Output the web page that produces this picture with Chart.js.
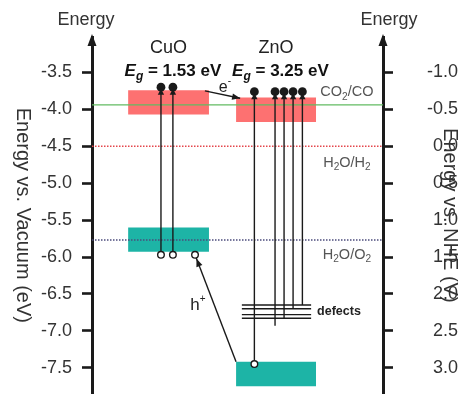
<!DOCTYPE html>
<html>
<head>
<meta charset="utf-8">
<script src="https://cdn.jsdelivr.net/npm/chart.js@4.4.0/dist/chart.umd.min.js"></script>
<style>
  html, body { margin: 0; padding: 0; background: #fff; }
  #wrap { width: 458px; height: 399px; position: relative; }
</style>
</head>
<body>
<div id="wrap"><canvas id="c"></canvas></div>
<script>
// Energy axes: eV vs. vacuum (left) and V vs. NHE (right)
const vacuumTicks = [-3.5, -4.0, -4.5, -5.0, -5.5, -6.0, -6.5, -7.0, -7.5];
const nheTicks = [-1.0, -0.5, 0.0, 0.5, 1.0, 1.5, 2.0, 2.5, 3.0];

// Semiconductors and their bands (eV vs. vacuum)
const materials = ['CuO', 'ZnO'];
const bandGaps = [1.53, 3.25];
const cbMinimum = [-4.07, -4.17];
const bandThickness = [0.33, 0.33];
const bandLeft = [12.4, 49.5];
const bandRight = [40.2, 77.0];

// Redox couples (eV vs. vacuum)
const redoxNames = ['CO2/CO', 'H2O/H2', 'H2O/O2'];
const redoxLevels = [-3.94, -4.5, -5.77];

// CuO excitations
const cuoExcX = [23.7, 27.8];
const cuoHole = -5.97;
const cuoElectron = -3.70;
const cuoTransferredHoleX = 35.4;

// ZnO band-to-band excitation and excitations out of defect states
const znoExcX = 55.8;
const znoHole = -7.45;
const znoElectron = -3.76;
const defectLevels = [-6.65, -6.70, -6.78, -6.83];
const defectSpan = [51.5, 75.3];
const defectExcX = [62.9, 66.0, 69.1, 72.3];
const defectExcStart = [-6.93, -6.83, -6.70, -6.65];

// Interfacial charge transfer (x, energy)
const electronTransfer = [[38.8, -3.75], [50.9, -3.85]];

const VAC_MIN = -7.85, VAC_MAX = -3.02;
const toNHE = e => -e - 4.5;

const FAMILY = '"Liberation Sans", Arial, Helvetica, sans-serif';
const font = (size, weight = 'normal', style = 'normal') => `${style} ${weight} ${size}px ${FAMILY}`;
const INK = '#1a1a1a';
const CB_COLOR = '#fd7171';
const VB_COLOR = '#1db4a6';
const REDOX_STYLE = [
  { color: '#62bb62', width: 1.2, dash: [] },
  { color: '#e4474c', width: 1.5, dash: [1.5, 1.5] },
  { color: '#4b4b7c', width: 1.5, dash: [1.5, 1.5] }
];

const datasets = [];

function block(x0, x1, yLow, yHigh, color) {
  return {
    data: [{ x: x0, y: yLow }, { x: x1, y: yLow }],
    fill: { value: yHigh },
    backgroundColor: color,
    borderColor: 'transparent',
    borderWidth: 0,
    pointRadius: 0,
    order: 6
  };
}

const cbTop = [], vbTop = [];
materials.forEach((m, i) => {
  const cbLow = cbMinimum[i];
  const cbHigh = cbLow + bandThickness[i];
  const vbHigh = cbLow - bandGaps[i];
  const vbLow = vbHigh - bandThickness[i];
  cbTop.push(cbHigh);
  vbTop.push(vbHigh);
  datasets.push(block(bandLeft[i], bandRight[i], cbLow, cbHigh, CB_COLOR));
  datasets.push(block(bandLeft[i], bandRight[i], vbLow, vbHigh, VB_COLOR));
});

redoxLevels.forEach((v, i) => {
  const s = REDOX_STYLE[i];
  datasets.push({
    data: [{ x: 0, y: v }, { x: 100, y: v }],
    borderColor: s.color,
    borderWidth: s.width,
    borderDash: s.dash,
    pointRadius: 0,
    fill: false,
    order: 5
  });
});

defectLevels.forEach(v => {
  datasets.push({
    data: [{ x: defectSpan[0], y: v }, { x: defectSpan[1], y: v }],
    borderColor: INK,
    borderWidth: 1.4,
    pointRadius: 0,
    fill: false,
    order: 4
  });
});

// vertical excitation: hole (open) at the start, electron (filled) at the end
function excitation(x, from, to, withHole) {
  return {
    data: [{ x, y: from }, { x, y: to }],
    borderColor: INK,
    borderWidth: 1.4,
    pointRadius: [withHole ? 3.3 : 0, 4.4],
    pointBackgroundColor: ['#ffffff', INK],
    pointBorderColor: INK,
    pointBorderWidth: [1.4, 0],
    fill: false,
    order: 2,
    arrowGap: 1.5, arrowLength: 6, arrowWidth: 3.2
  };
}

cuoExcX.forEach(x => datasets.push(excitation(x, cuoHole, cuoElectron, true)));
datasets.push(excitation(znoExcX, znoHole, znoElectron, true));
defectExcX.forEach((x, i) => datasets.push(excitation(x, defectExcStart[i], znoElectron, false)));

// hole transferred from the ZnO valence band to CuO
datasets.push({
  data: [{ x: cuoTransferredHoleX, y: cuoHole }],
  showLine: false,
  pointRadius: 3.3,
  pointBackgroundColor: '#ffffff',
  pointBorderColor: INK,
  pointBorderWidth: 1.4,
  order: 1
});
datasets.push({
  data: [{ x: bandLeft[1], y: vbTop[1] }, { x: cuoTransferredHoleX, y: cuoHole }],
  borderColor: INK,
  borderWidth: 1.4,
  pointRadius: 0,
  fill: false,
  order: 3,
  arrowGap: 4.2, arrowLength: 8, arrowWidth: 3.2
});
// electron transferred from CuO to ZnO
datasets.push({
  data: electronTransfer.map(([x, y]) => ({ x, y })),
  borderColor: INK,
  borderWidth: 1.4,
  pointRadius: 0,
  fill: false,
  order: 3,
  arrowGap: 0, arrowLength: 8, arrowWidth: 3.2
});

const arrowHeads = {
  id: 'arrowHeads',
  afterDatasetsDraw(chart) {
    const ctx = chart.ctx;
    chart.data.datasets.forEach((ds, i) => {
      if (ds.arrowGap === undefined) return;
      const pts = chart.getDatasetMeta(i).data;
      const a = pts[pts.length - 2], b = pts[pts.length - 1];
      const dx = b.x - a.x, dy = b.y - a.y, len = Math.hypot(dx, dy);
      const ux = dx / len, uy = dy / len;
      const tx = b.x - ux * ds.arrowGap, ty = b.y - uy * ds.arrowGap;
      const L = ds.arrowLength, W = ds.arrowWidth;
      ctx.save();
      ctx.fillStyle = INK;
      ctx.beginPath();
      ctx.moveTo(tx, ty);
      ctx.lineTo(tx - ux * L - uy * W, ty - uy * L + ux * W);
      ctx.lineTo(tx - ux * L + uy * W, ty - uy * L - ux * W);
      ctx.closePath();
      ctx.fill();
      ctx.restore();
    });
  }
};

function richText(ctx, parts, x, y, align, color) {
  let w = 0;
  parts.forEach(p => { ctx.font = p.font; p.w = ctx.measureText(p.t).width; w += p.w; });
  let cx = align === 'center' ? x - w / 2 : align === 'right' ? x - w : x;
  ctx.textAlign = 'left';
  ctx.textBaseline = 'middle';
  ctx.fillStyle = color;
  parts.forEach(p => {
    ctx.font = p.font;
    ctx.fillText(p.t, cx, y + (p.dy || 0));
    cx += p.w;
  });
}

// chemical formula with subscript digits
function formula(name, size) {
  return name.split(/(\d)/).filter(s => s.length).map(s =>
    /\d/.test(s) ? { t: s, font: font(size * 0.7), dy: size * 0.3 } : { t: s, font: font(size) });
}

const annotations = {
  id: 'annotations',
  afterDraw(chart) {
    const ctx = chart.ctx;
    const xs = chart.scales.x, ys = chart.scales.y, y2 = chart.scales.y2;
    const px = v => xs.getPixelForValue(v), py = v => ys.getPixelForValue(v);
    const area = chart.chartArea;
    const top = area.top;
    ctx.save();

    // axis arrows
    [area.left, area.right].forEach(ax => {
      ctx.fillStyle = INK;
      ctx.beginPath();
      ctx.moveTo(ax, top - 3);
      ctx.lineTo(ax - 4.5, top + 9);
      ctx.lineTo(ax + 4.5, top + 9);
      ctx.closePath();
      ctx.fill();
    });

    // axis headings
    ctx.fillStyle = '#333';
    ctx.font = font(18);
    ctx.textAlign = 'center';
    ctx.textBaseline = 'middle';
    ctx.fillText('Energy', area.left - 6, top - 17);
    ctx.fillText('Energy', area.right + 6, top - 17);

    // rotated axis titles
    const midY = (area.top + area.bottom) / 2;
    [[23, 'Energy vs. Vacuum (eV)'], [chart.width - 8, 'Energy vs. NHE (V)']].forEach(([x, t]) => {
      ctx.save();
      ctx.translate(x, midY);
      ctx.rotate(Math.PI / 2);
      ctx.font = font(20);
      ctx.fillStyle = '#333';
      ctx.textAlign = 'center';
      ctx.textBaseline = 'middle';
      ctx.fillText(t, 0, 0);
      ctx.restore();
    });

    // material names and band gaps
    materials.forEach((m, i) => {
      const cx = (bandLeft[i] + bandRight[i]) / 2;
      richText(ctx, [{ t: m, font: font(18) }], px(cx), py(-3.167), 'center', '#222');
      richText(ctx, [
        { t: 'E', font: font(17, 'bold', 'italic') },
        { t: 'g', font: font(12, 'bold', 'italic'), dy: 5 },
        { t: ' = ' + bandGaps[i].toFixed(2) + ' eV', font: font(17, 'bold') }
      ], px(cx + 1.5), py(-3.487), 'center', '#111');
    });

    // redox couple labels
    const redoxOffset = [0.17, -0.23, -0.2];
    redoxNames.forEach((n, i) => {
      richText(ctx, formula(n, 14.5), px(87.6), py(redoxLevels[i] + redoxOffset[i]), 'center', '#555');
    });

    // defect states
    const defectMid = defectLevels.reduce((a, b) => a + b, 0) / defectLevels.length;
    richText(ctx, [{ t: 'defects', font: font(12.5, 'bold') }], px(defectSpan[1]) + 6, py(defectMid), 'left', '#222');

    // carriers
    richText(ctx, [{ t: 'e', font: font(16) }, { t: '-', font: font(10), dy: -6 }],
      px(45.7), py(-3.70), 'center', '#222');
    richText(ctx, [{ t: 'h', font: font(17) }, { t: '+', font: font(10), dy: -6 }],
      px(36.4), py(-6.66), 'center', '#222');

    ctx.restore();
  }
};

const tickFont = { family: FAMILY, size: 18 };

new Chart(document.getElementById('c'), {
  type: 'line',
  data: { datasets },
  options: {
    responsive: true,
    maintainAspectRatio: false,
    animation: false,
    events: [],
    layout: { padding: { top: 37, left: 0, right: 0, bottom: 0 } },
    plugins: { legend: { display: false }, tooltip: { enabled: false } },
    scales: {
      x: { type: 'linear', display: false, min: 0, max: 100 },
      y: {
        type: 'linear',
        position: 'left',
        min: VAC_MIN,
        max: VAC_MAX,
        afterBuildTicks: s => { s.ticks = vacuumTicks.map(v => ({ value: v })); },
        afterFit: s => { s.width = 92; s.paddingTop = 0; s.paddingBottom = 0; },
        ticks: { callback: v => Number(v).toFixed(1), font: tickFont, color: '#333', padding: 10, autoSkip: false },
        grid: { drawOnChartArea: false, tickLength: 10, tickWidth: 2.6, tickColor: INK },
        border: { color: INK, width: 3 }
      },
      y2: {
        type: 'linear',
        position: 'right',
        reverse: true,
        min: toNHE(VAC_MAX),
        max: toNHE(VAC_MIN),
        afterBuildTicks: s => { s.ticks = nheTicks.map(v => ({ value: v })); },
        afterFit: s => { s.width = 75; s.paddingTop = 0; s.paddingBottom = 0; },
        ticks: { callback: v => Number(v).toFixed(1), font: tickFont, color: '#333', padding: 4, crossAlign: 'far', autoSkip: false },
        grid: { drawOnChartArea: false, tickLength: 10, tickWidth: 2.6, tickColor: INK },
        border: { color: INK, width: 3 }
      }
    }
  },
  plugins: [arrowHeads, annotations]
});
</script>
</body>
</html>
